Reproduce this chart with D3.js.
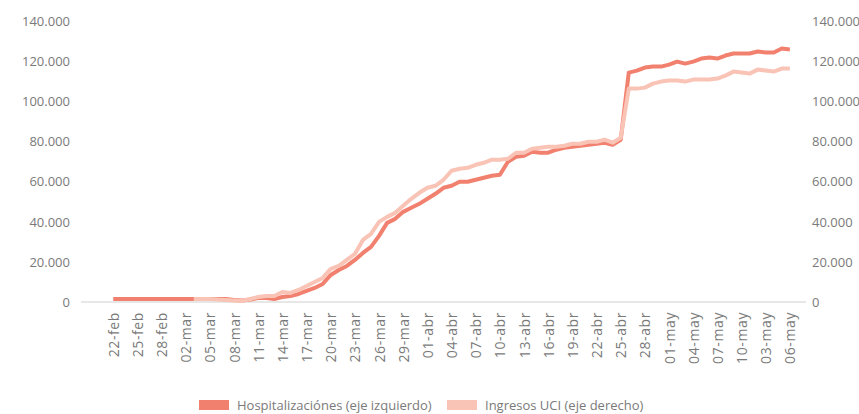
<!DOCTYPE html>
<html>
<head>
<meta charset="utf-8">
<script src="https://cdn.jsdelivr.net/npm/d3@7"></script>
<style>
  html, body { margin: 0; padding: 0; background: #fff; }
  svg { display: block; font-family: "Open Sans", sans-serif; }
</style>
</head>
<body>
<svg id="chart" width="859" height="414"></svg>
<script>
// Day index 0 = 22-feb, one value per day up to index 84
const startDate = "22-feb";
const hospitalizaciones = [
  1500,1500,1500,1500,1500,1500,1500,1500,1500,1500,
  1500,1500,1500,1500,1500,1000,800,1200,2000,2000,
  1500,2500,3000,4000,5500,7000,9000,13500,16000,18000,
  21000,24500,27500,33000,39500,41500,45000,47000,49000,51500,
  54000,57000,58000,60000,60000,61000,62000,63000,63500,70000,
  72500,73000,75000,74500,74500,76000,77000,77500,78000,78500,
  79000,79500,78500,81000,114500,115500,117000,117500,117500,118500,
  120000,119000,120000,121500,122000,121500,123000,124000,124000,124000,
  125000,124500,124500,126500,126000
];
const ingresosUCI = [
  null,null,null,null,null,null,null,null,null,null,
  1500,1500,1500,1200,1000,700,500,1500,2500,3000,
  3000,5000,4500,6000,8000,10000,12000,16500,18000,21000,
  24000,31000,34000,40000,42500,44500,48000,51500,54500,57000,
  58000,61000,65500,66500,67000,68500,69500,71000,71000,71500,
  74500,74500,76500,77000,77500,77500,78000,79000,79000,80000,
  80000,81000,79500,82000,106500,106500,107000,109000,110000,110500,
  110500,110000,111000,111000,111000,111500,113000,115000,114500,114000,
  116000,115500,115000,116500,116500
];
const tickLabels = ["22-feb","25-feb","28-feb","02-mar","05-mar","08-mar","11-mar","14-mar","17-mar","20-mar",
  "23-mar","26-mar","29-mar","01-abr","04-abr","07-abr","10-abr","13-abr","16-abr","19-abr",
  "22-abr","25-abr","28-abr","01-may","04-may","07-may","10-may","03-may","06-may"];
const tickIndex = [0,3,6,9,12,15,18,21,24,27,30,33,36,39,42,45,48,51,54,57,60,63,66,69,72,75,78,81,84];
const yTicks = [0,20000,40000,60000,80000,100000,120000,140000];
const seriesNames = ["Hospitalizaciónes (eje izquierdo)", "Ingresos UCI (eje derecho)"];
const seriesColors = ["#f1806f", "#f9c3b5"];

const svg = d3.select("#chart");
const x = d3.scaleLinear().domain([-4, 86]).range([81, 806]);
const yL = d3.scaleLinear().domain([0, 140000]).range([302, 21.5]);
const yR = d3.scaleLinear().domain([0, 140000]).range([302, 21.5]);

const loc = d3.formatLocale({decimal: ",", thousands: ".", grouping: [3], currency: ["", ""]});
const fmt = loc.format(",.0f");

// left axis
const gL = svg.append("g").attr("transform", "translate(76,0)")
  .call(d3.axisLeft(yL).tickValues(yTicks).tickFormat(fmt).tickSize(0).tickPadding(6));
gL.select(".domain").remove();
gL.selectAll("text").attr("fill", "#7a7a7a").attr("font-size", 13).attr("font-family", "Open Sans");

// right axis
const gR = svg.append("g").attr("transform", "translate(806,0)")
  .call(d3.axisRight(yR).tickValues(yTicks).tickFormat(fmt).tickSize(0).tickPadding(6));
gR.select(".domain").remove();
gR.selectAll("text").attr("fill", "#7a7a7a").attr("font-size", 13).attr("font-family", "Open Sans");

// baseline
svg.append("line").attr("x1", x.range()[0]).attr("x2", x.range()[1])
  .attr("y1", yL(0)).attr("y2", yL(0)).attr("stroke", "#cfcfcf").attr("stroke-width", 1);

// x labels
const gX = svg.append("g").attr("transform", `translate(0,${yL(0)})`)
  .call(d3.axisBottom(x).tickValues(tickIndex).tickFormat((d, i) => tickLabels[i]).tickSize(0).tickPadding(0));
gX.select(".domain").remove();
gX.selectAll("text")
  .attr("fill", "#7a7a7a").attr("font-size", 14).attr("font-family", "Open Sans")
  .attr("letter-spacing", 0.6)
  .attr("text-anchor", "end").attr("dy", null).attr("y", 0)
  .attr("transform", "translate(5,10) rotate(-90)");

// lines
const lineL = d3.line().defined(d => d != null).x((d, i) => x(i)).y(d => yL(d));
const lineR = d3.line().defined(d => d != null).x((d, i) => x(i)).y(d => yR(d));
svg.append("path").datum(hospitalizaciones).attr("d", lineL)
  .attr("fill", "none").attr("stroke", seriesColors[0]).attr("stroke-width", 4).attr("stroke-linejoin", "round");
svg.append("path").datum(ingresosUCI).attr("d", lineR)
  .attr("fill", "none").attr("stroke", seriesColors[1]).attr("stroke-width", 4).attr("stroke-linejoin", "round");

// legend
const legendX = [199, 447];
const lg = svg.append("g");
seriesNames.forEach((n, i) => {
  lg.append("rect").attr("x", legendX[i]).attr("y", 400).attr("width", 30).attr("height", 10).attr("fill", seriesColors[i]);
  lg.append("text").attr("x", legendX[i] + 38).attr("y", 410).attr("fill", "#7a7a7a")
    .attr("font-size", 13).attr("font-family", "Open Sans").text(n);
});
</script>
</body>
</html>
